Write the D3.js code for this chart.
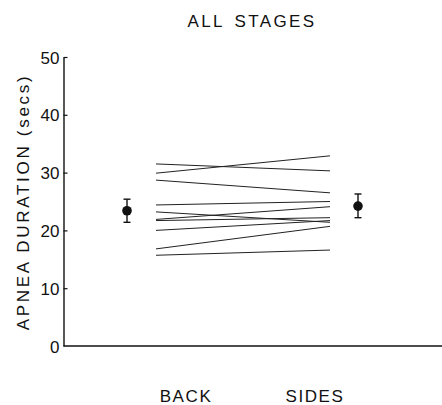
<!DOCTYPE html>
<html>
<head>
<meta charset="utf-8">
<script src="https://cdn.jsdelivr.net/npm/d3@7"></script>
<style>
  body { margin: 0; background: #fff; }
  text { font-family: "Liberation Sans", Arial, sans-serif; fill: #111; }
  .lab { font-size: 17px; letter-spacing: 1.6px; }
</style>
</head>
<body>
<script>
// canvas
var w = 442;
var h = 405;

// data: each subject's mean apnea duration, back vs sides
var conditions = ["BACK", "SIDES"];
var backVals  = [31.5, 29.9, 28.7, 24.4, 23.2, 21.9, 21.7, 20.0, 16.8, 15.7];
var sidesVals = [30.3, 32.9, 26.5, 25.0, 21.4, 24.1, 22.2, 21.7, 20.7, 16.6];
// group mean and error bar (low, high)
var meanVals = [23.4, 24.2];
var errLow   = [21.4, 22.2];
var errHigh  = [25.4, 26.3];
var yTicks = [0, 10, 20, 30, 40, 50];

// layout
var axX = 63.5;     // y axis position
var axY0 = 346;     // y of value 0
var axY50 = 57;     // y of value 50
var lineX0 = 156, lineX1 = 330;   // subject lines span
var meanX = [127, 358];
var labX = [186, 315];

var scaleY = d3.scaleLinear().domain([0, 50]).range([axY0, axY50]);
// 0 = back end of subject lines, 1 = sides end
var scaleX = d3.scaleLinear().domain([0, 1]).range([lineX0, lineX1]);

var svg = d3.select("body").append("svg")
            .attr("width", w)
            .attr("height", h);

// title
svg.append("text")
   .attr("class", "lab")
   .attr("x", 252)
   .attr("y", 27)
   .attr("text-anchor", "middle")
   .style("letter-spacing", "2.4px")
   .style("word-spacing", "3px")
   .text("ALL STAGES");

// y axis, ticks pointing inward
var axisY = d3.axisRight(scaleY)
              .tickValues(yTicks)
              .tickSize(4)
              .tickSizeOuter(0)
              .tickFormat(d3.format("d"));
var gy = svg.append("g")
            .attr("transform", "translate(" + axX + ",0)")
            .call(axisY);
gy.attr("font-size", null).attr("font-family", null);
gy.select(".domain").attr("stroke", "#111").attr("stroke-width", 1.4);
gy.selectAll(".tick line").attr("stroke", "#111").attr("stroke-width", 1.2);
gy.selectAll(".tick text")
  .attr("x", -4)
  .attr("dy", "0.36em")
  .attr("text-anchor", "end")
  .attr("fill", "#111")
  .style("font-size", "17px");
gy.select(".tick:first-of-type line").remove();

// x axis line
svg.append("line")
   .attr("x1", axX).attr("x2", w)
   .attr("y1", scaleY(0)).attr("y2", scaleY(0))
   .attr("stroke", "#111")
   .attr("stroke-width", 1.4);

// y label
svg.append("text")
   .attr("class", "lab")
   .attr("transform", "translate(29,202) rotate(-90)")
   .attr("text-anchor", "middle")
   .style("letter-spacing", "2.7px")
   .text("APNEA DURATION (secs)");

// subject lines
var lineGen = d3.line();
for (var i = 0; i < backVals.length; i++) {
    svg.append("path")
       .attr("d", lineGen([[scaleX(0), scaleY(backVals[i])],
                           [scaleX(1), scaleY(sidesVals[i])]]))
       .attr("stroke", "#222")
       .attr("stroke-width", 1)
       .attr("fill", "none");
}

// group means with error bars
for (var j = 0; j < meanVals.length; j++) {
    var mx = meanX[j];
    svg.append("line")
       .attr("x1", mx).attr("x2", mx)
       .attr("y1", scaleY(errLow[j])).attr("y2", scaleY(errHigh[j]))
       .attr("stroke", "#111").attr("stroke-width", 1.4);
    [errLow[j], errHigh[j]].forEach(function(v) {
        svg.append("line")
           .attr("x1", mx - 3.5).attr("x2", mx + 3.5)
           .attr("y1", scaleY(v)).attr("y2", scaleY(v))
           .attr("stroke", "#111").attr("stroke-width", 1.4);
    });
    svg.append("circle")
       .attr("cx", mx)
       .attr("cy", scaleY(meanVals[j]))
       .attr("r", 4.8)
       .attr("fill", "#111");
}

// category labels
for (var k = 0; k < conditions.length; k++) {
    svg.append("text")
       .attr("class", "lab")
       .attr("x", labX[k])
       .attr("y", 402)
       .attr("text-anchor", "middle")
       .text(conditions[k]);
}
</script>
</body>
</html>
